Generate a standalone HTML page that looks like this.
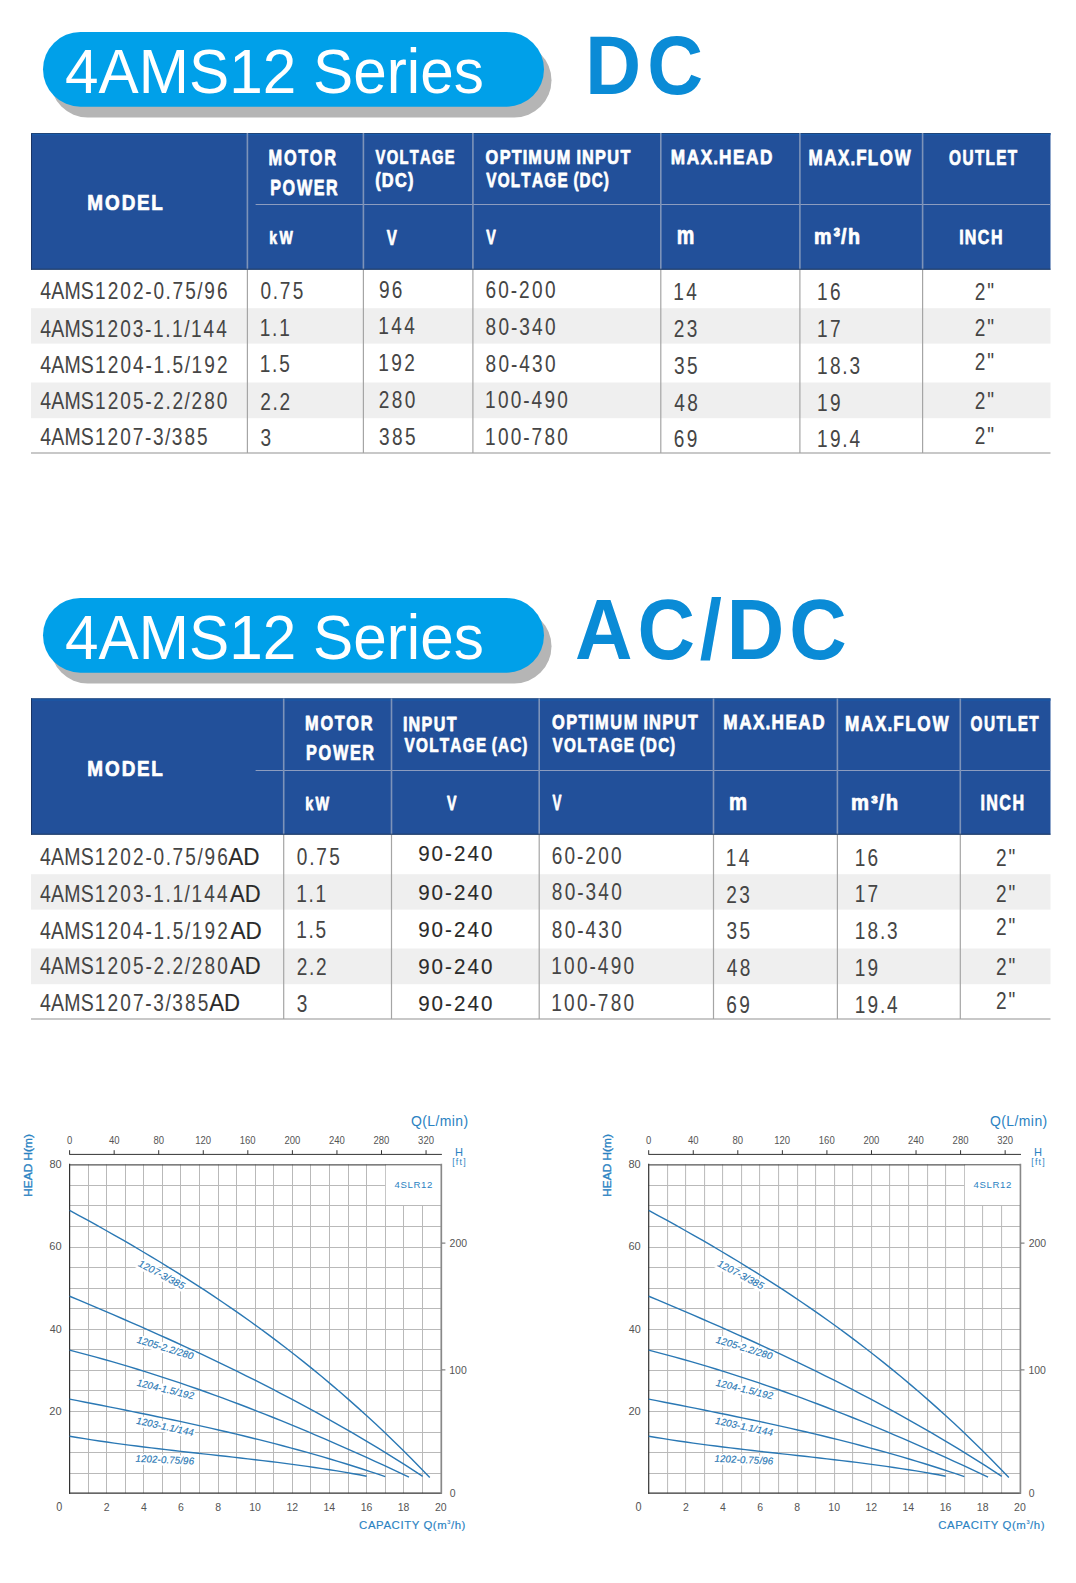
<!DOCTYPE html>
<html><head><meta charset="utf-8"><title>4AMS12 Series</title><style>
html,body{margin:0;padding:0;background:#fff;width:1076px;height:1583px;overflow:hidden}
svg{display:block}
text{font-family:"Liberation Sans",Arial,Helvetica,sans-serif}
</style></head><body>
<svg width="1076" height="1583" viewBox="0 0 1076 1583">
<rect width="1076" height="1583" fill="#ffffff"/>
<rect x="50.5" y="43.0" width="501" height="74.5" rx="37.25" fill="#b5b5b5"/>
<rect x="43" y="32.0" width="501" height="74.7" rx="37.35" fill="#00a0e9"/>
<text transform="translate(65.02 92.80) scale(0.9646 1)" font-size="62.50" fill="#ffffff">4AMS12 Series</text>
<text transform="translate(585.23 93.90) scale(0.9300 1)" font-size="83.14" font-weight="bold" letter-spacing="6.569" fill="#0a8bd6">DC</text>
<rect x="31.0" y="133.0" width="1019.5" height="136.7" fill="#22509a"/>
<rect x="31.0" y="133.0" width="1" height="136.7" fill="#1a3566"/>
<rect x="31.0" y="133.0" width="1019.5" height="1" fill="#1f4478"/>
<rect x="32.0" y="134.0" width="1018.5" height="1.2" fill="#1a5aaa"/>
<rect x="31.0" y="308.2" width="1019.5" height="35.4" fill="#efefef"/>
<rect x="31.0" y="382.5" width="1019.5" height="35.7" fill="#efefef"/>
<rect x="255.6" y="204.00" width="794.9" height="1" fill="#8c9cbf"/>
<rect x="246.60" y="133.0" width="1.6" height="136.7" fill="#7d93b9"/>
<rect x="246.80" y="269.7" width="1.2" height="183.3" fill="#a5a5a5"/>
<rect x="362.60" y="133.0" width="1.6" height="136.7" fill="#7d93b9"/>
<rect x="362.80" y="269.7" width="1.2" height="183.3" fill="#a5a5a5"/>
<rect x="472.10" y="133.0" width="1.6" height="136.7" fill="#7d93b9"/>
<rect x="472.30" y="269.7" width="1.2" height="183.3" fill="#a5a5a5"/>
<rect x="660.00" y="133.0" width="1.6" height="136.7" fill="#7d93b9"/>
<rect x="660.20" y="269.7" width="1.2" height="183.3" fill="#a5a5a5"/>
<rect x="799.10" y="133.0" width="1.6" height="136.7" fill="#7d93b9"/>
<rect x="799.30" y="269.7" width="1.2" height="183.3" fill="#a5a5a5"/>
<rect x="921.80" y="133.0" width="1.6" height="136.7" fill="#7d93b9"/>
<rect x="922.00" y="269.7" width="1.2" height="183.3" fill="#a5a5a5"/>
<rect x="31.0" y="452.40" width="1019.5" height="1.2" fill="#a5a5a5"/>
<rect x="31.0" y="268.7" width="1019.5" height="1" fill="#233c62"/>
<text transform="translate(0 210.30) scale(0.8523 1)" x="102.44 123.31 142.80 160.89 177.59" font-size="22.17" font-weight="bold" stroke="#ffffff" stroke-width="0.75" stroke-linejoin="round" fill="#ffffff">MODEL</text>
<text transform="translate(0 165.10) scale(0.7226 1)" x="371.70 393.02 412.75 428.71 448.62" font-size="22.60" font-weight="bold" stroke="#ffffff" stroke-width="0.75" stroke-linejoin="round" fill="#ffffff">MOTOR</text>
<text transform="translate(0 195.00) scale(0.7278 1)" x="371.25 388.17 407.95 431.24 448.08" font-size="22.17" font-weight="bold" stroke="#ffffff" stroke-width="0.75" stroke-linejoin="round" fill="#ffffff">POWER</text>
<text transform="translate(0 164.00) scale(0.6982 1)" x="537.76 553.82 572.14 586.71 601.43 618.73 637.13" font-size="21.15" font-weight="bold" stroke="#ffffff" stroke-width="0.75" stroke-linejoin="round" fill="#ffffff">VOLTAGE</text>
<text transform="translate(0 187.00) scale(0.8431 1)" x="445.10 452.85 468.63 483.93" font-size="19.40" font-weight="bold" stroke="#ffffff" stroke-width="0.75" stroke-linejoin="round" fill="#ffffff">(DC)</text>
<text transform="translate(0 163.80) scale(0.8338 1)" x="582.39 599.31 613.86 626.85 633.59 651.71 667.67 685.27 691.36 697.97 713.73 728.41 744.10" font-size="19.55" font-weight="bold" stroke="#ffffff" stroke-width="0.75" stroke-linejoin="round" fill="#ffffff">OPTIMUM INPUT</text>
<text transform="translate(0 186.90) scale(0.7442 1)" x="653.30 668.78 686.47 700.52 714.71 731.39 749.15 764.01 770.47 778.61 795.22 811.36" font-size="20.57" font-weight="bold" stroke="#ffffff" stroke-width="0.75" stroke-linejoin="round" fill="#ffffff">VOLTAGE (DC)</text>
<text transform="translate(0 164.20) scale(0.8363 1)" x="802.02 821.19 837.86 852.82 859.84 876.51 892.05 908.80" font-size="20.57" font-weight="bold" stroke="#ffffff" stroke-width="0.75" stroke-linejoin="round" fill="#ffffff">MAX.HEAD</text>
<text transform="translate(0 164.60) scale(0.7961 1)" x="1015.51 1035.42 1052.74 1068.26 1075.42 1090.13 1105.08 1124.04" font-size="21.29" font-weight="bold" stroke="#ffffff" stroke-width="0.75" stroke-linejoin="round" fill="#ffffff">MAX.FLOW</text>
<text transform="translate(0 164.60) scale(0.7221 1)" x="1314.22 1332.90 1350.17 1364.90 1379.71 1395.72" font-size="21.29" font-weight="bold" stroke="#ffffff" stroke-width="0.75" stroke-linejoin="round" fill="#ffffff">OUTLET</text>
<text transform="translate(0 244.10) scale(0.7628 1)" x="353.14 366.38" font-size="18.53" font-weight="bold" stroke="#ffffff" stroke-width="0.75" stroke-linejoin="round" fill="#ffffff">kW</text>
<text transform="translate(386.77 244.50) scale(0.6717 1)" font-size="22.67" font-weight="bold" fill="#ffffff" stroke="#ffffff" stroke-width="0.75" stroke-linejoin="round">V</text>
<text transform="translate(486.18 244.40) scale(0.7084 1)" font-size="20.20" font-weight="bold" fill="#ffffff" stroke="#ffffff" stroke-width="0.75" stroke-linejoin="round">V</text>
<text transform="translate(676.77 244.10) scale(0.7795 1)" font-size="25.36" font-weight="bold" fill="#ffffff" stroke="#ffffff" stroke-width="0.75" stroke-linejoin="round">m</text>
<text transform="translate(0 243.90) scale(0.9075 1)" x="897.01 918.48 926.79 934.39" font-size="21.73" font-weight="bold" stroke="#ffffff" stroke-width="0.75" stroke-linejoin="round" fill="#ffffff">m³/h</text>
<text transform="translate(0 243.90) scale(0.8002 1)" x="1198.80 1205.67 1222.01 1238.35" font-size="19.99" font-weight="bold" stroke="#ffffff" stroke-width="0.75" stroke-linejoin="round" fill="#ffffff">INCH</text>
<text transform="translate(0 298.60) scale(0.8400 1)" x="47.80 60.92 76.67 96.27" font-size="23.26" fill="#454545">4AMS</text>
<text transform="translate(0 298.60) scale(0.8200 1)" x="115.79 131.29 146.79 162.29 177.27 187.07 201.93 210.31 225.81 240.67 249.05 264.55" font-size="23.26" fill="#454545">1202-0.75/96</text>
<text transform="translate(0 337.10) scale(0.8400 1)" x="47.80 60.92 76.67 96.27" font-size="23.26" fill="#454545">4AMS</text>
<text transform="translate(0 337.10) scale(0.8200 1)" x="115.79 131.20 146.62 162.03 176.94 186.67 201.46 209.78 224.58 232.90 248.31 263.72" font-size="23.26" fill="#454545">1203-1.1/144</text>
<text transform="translate(0 372.80) scale(0.8400 1)" x="47.80 60.92 76.67 96.27" font-size="23.26" fill="#454545">4AMS</text>
<text transform="translate(0 372.80) scale(0.8200 1)" x="115.79 131.30 146.82 162.33 177.33 187.14 202.01 210.40 225.27 233.67 249.18 264.70" font-size="23.26" fill="#454545">1204-1.5/192</text>
<text transform="translate(0 408.60) scale(0.8400 1)" x="47.80 60.92 76.67 96.27" font-size="23.26" fill="#454545">4AMS</text>
<text transform="translate(0 408.60) scale(0.8200 1)" x="115.79 131.28 146.76 162.25 177.23 187.01 201.86 210.24 225.09 233.46 248.95 264.44" font-size="23.26" fill="#454545">1205-2.2/280</text>
<text transform="translate(0 445.40) scale(0.8400 1)" x="47.80 60.92 76.67 96.27" font-size="23.26" fill="#454545">4AMS</text>
<text transform="translate(0 445.40) scale(0.8200 1)" x="115.79 131.17 146.55 161.94 176.83 186.53 201.30 209.60 224.98 240.36" font-size="23.26" fill="#454545">1207-3/385</text>
<text transform="translate(0 299.00) scale(0.8200 1)" x="317.63 332.69 341.28 357.05" font-size="23.26" fill="#454545">0.75</text>
<text transform="translate(0 297.60) scale(0.8200 1)" x="462.08 477.85" font-size="23.26" fill="#454545">96</text>
<text transform="translate(0 297.60) scale(0.8200 1)" x="591.99 607.76 622.97 632.98 648.75 664.53" font-size="23.26" fill="#454545">60-200</text>
<text transform="translate(0 300.00) scale(0.8200 1)" x="821.03 836.81" font-size="23.26" fill="#454545">14</text>
<text transform="translate(0 300.00) scale(0.8200 1)" x="996.40 1012.17" font-size="23.26" fill="#454545">16</text>
<text transform="translate(0 299.90) scale(0.8200 1)" x="1188.71 1203.97" font-size="23.26" fill="#454545">2&quot;</text>
<text transform="translate(0 335.80) scale(0.8200 1)" x="316.77 331.83 340.42" font-size="23.26" fill="#454545">1.1</text>
<text transform="translate(0 334.40) scale(0.8200 1)" x="461.40 477.17 492.95" font-size="23.26" fill="#454545">144</text>
<text transform="translate(0 335.00) scale(0.8200 1)" x="592.16 607.93 623.14 633.15 648.92 664.70" font-size="23.26" fill="#454545">80-340</text>
<text transform="translate(0 337.10) scale(0.8200 1)" x="821.64 837.41" font-size="23.26" fill="#454545">23</text>
<text transform="translate(0 337.10) scale(0.8200 1)" x="996.40 1012.17" font-size="23.26" fill="#454545">17</text>
<text transform="translate(0 336.40) scale(0.8200 1)" x="1188.71 1203.97" font-size="23.26" fill="#454545">2&quot;</text>
<text transform="translate(0 371.60) scale(0.8200 1)" x="316.77 331.83 340.42" font-size="23.26" fill="#454545">1.5</text>
<text transform="translate(0 371.20) scale(0.8200 1)" x="461.40 477.17 492.95" font-size="23.26" fill="#454545">192</text>
<text transform="translate(0 371.60) scale(0.8200 1)" x="592.16 607.93 623.14 633.15 648.92 664.70" font-size="23.26" fill="#454545">80-430</text>
<text transform="translate(0 373.70) scale(0.8200 1)" x="821.92 837.69" font-size="23.26" fill="#454545">35</text>
<text transform="translate(0 373.70) scale(0.8200 1)" x="996.40 1012.17 1027.24 1035.83" font-size="23.26" fill="#454545">18.3</text>
<text transform="translate(0 369.90) scale(0.8200 1)" x="1188.71 1203.97" font-size="23.26" fill="#454545">2&quot;</text>
<text transform="translate(0 409.60) scale(0.8200 1)" x="317.37 332.43 341.02" font-size="23.26" fill="#454545">2.2</text>
<text transform="translate(0 408.00) scale(0.8200 1)" x="462.00 477.77 493.55" font-size="23.26" fill="#454545">280</text>
<text transform="translate(0 408.40) scale(0.8200 1)" x="591.40 607.17 622.95 638.15 648.16 663.94 679.71" font-size="23.26" fill="#454545">100-490</text>
<text transform="translate(0 410.50) scale(0.8200 1)" x="822.27 838.04" font-size="23.26" fill="#454545">48</text>
<text transform="translate(0 410.50) scale(0.8200 1)" x="996.40 1012.17" font-size="23.26" fill="#454545">19</text>
<text transform="translate(0 409.00) scale(0.8200 1)" x="1188.71 1203.97" font-size="23.26" fill="#454545">2&quot;</text>
<text transform="translate(0 445.80) scale(0.8200 1)" x="317.65" font-size="23.26" fill="#454545">3</text>
<text transform="translate(0 444.80) scale(0.8200 1)" x="462.28 478.06 493.83" font-size="23.26" fill="#454545">385</text>
<text transform="translate(0 445.40) scale(0.8200 1)" x="591.40 607.17 622.95 638.15 648.16 663.94 679.71" font-size="23.26" fill="#454545">100-780</text>
<text transform="translate(0 446.90) scale(0.8200 1)" x="821.62 837.40" font-size="23.26" fill="#454545">69</text>
<text transform="translate(0 446.90) scale(0.8200 1)" x="996.40 1012.17 1027.24 1035.83" font-size="23.26" fill="#454545">19.4</text>
<text transform="translate(0 443.70) scale(0.8200 1)" x="1188.71 1203.97" font-size="23.26" fill="#454545">2&quot;</text>
<rect x="50.5" y="609.0" width="501" height="74.5" rx="37.25" fill="#b5b5b5"/>
<rect x="43" y="598.0" width="501" height="74.7" rx="37.35" fill="#00a0e9"/>
<text transform="translate(65.02 658.80) scale(0.9646 1)" font-size="62.50" fill="#ffffff">4AMS12 Series</text>
<text transform="translate(575.02 659.10) scale(0.9300 1)" font-size="85.61" font-weight="bold" letter-spacing="5.281" fill="#0a8bd6">AC/DC</text>
<rect x="31.0" y="698.4" width="1019.5" height="136.3" fill="#22509a"/>
<rect x="31.0" y="698.4" width="1" height="136.3" fill="#1a3566"/>
<rect x="31.0" y="698.4" width="1019.5" height="1" fill="#1f4478"/>
<rect x="32.0" y="699.4" width="1018.5" height="1.2" fill="#1a5aaa"/>
<rect x="31.0" y="874.2" width="1019.5" height="35.4" fill="#efefef"/>
<rect x="31.0" y="948.5" width="1019.5" height="35.7" fill="#efefef"/>
<rect x="255.6" y="770.00" width="794.9" height="1" fill="#8c9cbf"/>
<rect x="282.90" y="698.4" width="1.6" height="136.3" fill="#7d93b9"/>
<rect x="283.10" y="834.7" width="1.2" height="184.3" fill="#a5a5a5"/>
<rect x="390.70" y="698.4" width="1.6" height="136.3" fill="#7d93b9"/>
<rect x="390.90" y="834.7" width="1.2" height="184.3" fill="#a5a5a5"/>
<rect x="538.40" y="698.4" width="1.6" height="136.3" fill="#7d93b9"/>
<rect x="538.60" y="834.7" width="1.2" height="184.3" fill="#a5a5a5"/>
<rect x="712.70" y="698.4" width="1.6" height="136.3" fill="#7d93b9"/>
<rect x="712.90" y="834.7" width="1.2" height="184.3" fill="#a5a5a5"/>
<rect x="836.60" y="698.4" width="1.6" height="136.3" fill="#7d93b9"/>
<rect x="836.80" y="834.7" width="1.2" height="184.3" fill="#a5a5a5"/>
<rect x="959.50" y="698.4" width="1.6" height="136.3" fill="#7d93b9"/>
<rect x="959.70" y="834.7" width="1.2" height="184.3" fill="#a5a5a5"/>
<rect x="31.0" y="1018.40" width="1019.5" height="1.2" fill="#a5a5a5"/>
<rect x="31.0" y="833.7" width="1019.5" height="1" fill="#233c62"/>
<text transform="translate(0 776.30) scale(0.8523 1)" x="102.44 123.31 142.80 160.89 177.59" font-size="22.17" font-weight="bold" stroke="#ffffff" stroke-width="0.75" stroke-linejoin="round" fill="#ffffff">MODEL</text>
<text transform="translate(0 730.10) scale(0.8113 1)" x="376.05 395.04 412.62 426.83 444.56" font-size="20.13" font-weight="bold" stroke="#ffffff" stroke-width="0.75" stroke-linejoin="round" fill="#ffffff">MOTOR</text>
<text transform="translate(0 760.30) scale(0.7686 1)" x="398.13 414.26 433.13 455.36 471.42" font-size="21.15" font-weight="bold" stroke="#ffffff" stroke-width="0.75" stroke-linejoin="round" fill="#ffffff">POWER</text>
<text transform="translate(0 731.00) scale(0.8110 1)" x="497.01 503.79 519.87 534.85 550.86" font-size="19.84" font-weight="bold" stroke="#ffffff" stroke-width="0.75" stroke-linejoin="round" fill="#ffffff">INPUT</text>
<text transform="translate(0 752.00) scale(0.7665 1)" x="527.85 542.89 560.08 573.73 587.52 603.73 620.98 635.43 641.71 649.61 665.75 681.44" font-size="19.99" font-weight="bold" stroke="#ffffff" stroke-width="0.75" stroke-linejoin="round" fill="#ffffff">VOLTAGE (AC)</text>
<text transform="translate(0 729.20) scale(0.7981 1)" x="691.67 709.46 724.77 738.44 745.53 764.60 781.39 799.90 806.31 813.26 829.84 845.29 861.80" font-size="20.57" font-weight="bold" stroke="#ffffff" stroke-width="0.75" stroke-linejoin="round" fill="#ffffff">OPTIMUM INPUT</text>
<text transform="translate(0 752.40) scale(0.7436 1)" x="743.14 758.62 776.31 790.36 804.54 821.22 838.98 853.85 860.31 868.44 885.06 901.19" font-size="20.57" font-weight="bold" stroke="#ffffff" stroke-width="0.75" stroke-linejoin="round" fill="#ffffff">VOLTAGE (DC)</text>
<text transform="translate(0 729.20) scale(0.8346 1)" x="866.53 885.70 902.37 917.33 924.35 941.03 956.57 973.31" font-size="20.57" font-weight="bold" stroke="#ffffff" stroke-width="0.75" stroke-linejoin="round" fill="#ffffff">MAX.HEAD</text>
<text transform="translate(0 730.70) scale(0.7646 1)" x="1105.11 1126.11 1144.37 1160.74 1168.29 1183.80 1199.57 1219.57" font-size="22.46" font-weight="bold" stroke="#ffffff" stroke-width="0.75" stroke-linejoin="round" fill="#ffffff">MAX.FLOW</text>
<text transform="translate(0 730.70) scale(0.6858 1)" x="1415.00 1434.70 1452.90 1468.44 1484.06 1500.94" font-size="22.46" font-weight="bold" stroke="#ffffff" stroke-width="0.75" stroke-linejoin="round" fill="#ffffff">OUTLET</text>
<text transform="translate(0 809.60) scale(0.7798 1)" x="391.32 404.57" font-size="18.53" font-weight="bold" stroke="#ffffff" stroke-width="0.75" stroke-linejoin="round" fill="#ffffff">kW</text>
<text transform="translate(447.08 810.00) scale(0.6958 1)" font-size="20.35" font-weight="bold" fill="#ffffff" stroke="#ffffff" stroke-width="0.75" stroke-linejoin="round">V</text>
<text transform="translate(552.58 810.40) scale(0.6143 1)" font-size="21.80" font-weight="bold" fill="#ffffff" stroke="#ffffff" stroke-width="0.75" stroke-linejoin="round">V</text>
<text transform="translate(729.04 810.40) scale(0.8377 1)" font-size="24.23" font-weight="bold" fill="#ffffff" stroke="#ffffff" stroke-width="0.75" stroke-linejoin="round">m</text>
<text transform="translate(0 810.40) scale(0.9496 1)" x="896.23 917.27 925.42 932.86" font-size="21.29" font-weight="bold" stroke="#ffffff" stroke-width="0.75" stroke-linejoin="round" fill="#ffffff">m³/h</text>
<text transform="translate(0 810.40) scale(0.7316 1)" x="1340.38 1347.95 1365.95 1383.95" font-size="22.02" font-weight="bold" stroke="#ffffff" stroke-width="0.75" stroke-linejoin="round" fill="#ffffff">INCH</text>
<text transform="translate(0 864.50) scale(0.8400 1)" x="47.68 60.80 76.55 96.15" font-size="23.26" fill="#454545">4AMS</text>
<text transform="translate(0 864.50) scale(0.8200 1)" x="115.67 131.22 146.77 162.32 177.34 187.18 202.08 210.50 226.05 240.94 249.37 264.92" font-size="23.26" fill="#454545">1202-0.75/96</text>
<text transform="translate(228.16 864.50) scale(0.9696 1)" font-size="23.26" fill="#2a2a2a" stroke="#2a2a2a" stroke-width="0.12">AD</text>
<text transform="translate(0 901.90) scale(0.8400 1)" x="47.68 60.80 76.55 96.15" font-size="23.26" fill="#454545">4AMS</text>
<text transform="translate(0 901.90) scale(0.8200 1)" x="115.67 131.18 146.70 162.21 177.21 187.02 201.89 210.28 225.15 233.55 249.06 264.58" font-size="23.26" fill="#454545">1203-1.1/144</text>
<text transform="translate(230.06 901.90) scale(0.9471 1)" font-size="23.26" fill="#2a2a2a" stroke="#2a2a2a" stroke-width="0.12">AD</text>
<text transform="translate(0 939.40) scale(0.8400 1)" x="47.68 60.80 76.55 96.15" font-size="23.26" fill="#454545">4AMS</text>
<text transform="translate(0 939.40) scale(0.8200 1)" x="115.67 131.23 146.80 162.36 177.40 187.25 202.16 210.59 225.50 233.93 249.50 265.06" font-size="23.26" fill="#454545">1204-1.5/192</text>
<text transform="translate(230.56 939.40) scale(0.9696 1)" font-size="23.26" fill="#2a2a2a" stroke="#2a2a2a" stroke-width="0.12">AD</text>
<text transform="translate(0 974.40) scale(0.8400 1)" x="47.68 60.80 76.55 96.15" font-size="23.26" fill="#454545">4AMS</text>
<text transform="translate(0 974.40) scale(0.8200 1)" x="115.67 131.21 146.74 162.28 177.30 187.13 202.01 210.43 225.31 233.73 249.27 264.80" font-size="23.26" fill="#454545">1205-2.2/280</text>
<text transform="translate(230.06 974.40) scale(0.9471 1)" font-size="23.26" fill="#2a2a2a" stroke="#2a2a2a" stroke-width="0.12">AD</text>
<text transform="translate(0 1011.40) scale(0.8400 1)" x="47.68 60.80 76.55 96.15" font-size="23.26" fill="#454545">4AMS</text>
<text transform="translate(0 1011.40) scale(0.8200 1)" x="115.67 131.17 146.67 162.18 177.16 186.96 201.82 210.21 225.71 241.21" font-size="23.26" fill="#454545">1207-3/385</text>
<text transform="translate(209.26 1011.40) scale(0.9535 1)" font-size="23.26" fill="#2a2a2a" stroke="#2a2a2a" stroke-width="0.12">AD</text>
<text transform="translate(0 864.50) scale(0.8200 1)" x="362.02 377.08 385.67 401.44" font-size="23.26" fill="#454545">0.75</text>
<text transform="translate(418.14 861.10) scale(0.9700 1)" font-size="21.22" letter-spacing="2.098" fill="#2a2a2a" stroke="#2a2a2a" stroke-width="0.12">90-240</text>
<text transform="translate(0 863.50) scale(0.8200 1)" x="672.72 688.49 703.70 713.71 729.49 745.26" font-size="23.26" fill="#454545">60-200</text>
<text transform="translate(0 865.90) scale(0.8200 1)" x="885.18 900.95" font-size="23.26" fill="#454545">14</text>
<text transform="translate(0 865.90) scale(0.8200 1)" x="1042.25 1058.03" font-size="23.26" fill="#454545">16</text>
<text transform="translate(0 865.90) scale(0.8200 1)" x="1214.68 1229.94" font-size="23.26" fill="#454545">2&quot;</text>
<text transform="translate(0 901.50) scale(0.8200 1)" x="361.16 376.22 384.81" font-size="23.26" fill="#454545">1.1</text>
<text transform="translate(418.14 900.20) scale(0.9700 1)" font-size="21.22" letter-spacing="2.098" fill="#2a2a2a" stroke="#2a2a2a" stroke-width="0.12">90-240</text>
<text transform="translate(0 900.20) scale(0.8200 1)" x="672.89 688.66 703.87 713.88 729.66 745.43" font-size="23.26" fill="#454545">80-340</text>
<text transform="translate(0 902.70) scale(0.8200 1)" x="885.78 901.55" font-size="23.26" fill="#454545">23</text>
<text transform="translate(0 902.20) scale(0.8200 1)" x="1042.25 1058.03" font-size="23.26" fill="#454545">17</text>
<text transform="translate(0 902.20) scale(0.8200 1)" x="1214.68 1229.94" font-size="23.26" fill="#454545">2&quot;</text>
<text transform="translate(0 938.40) scale(0.8200 1)" x="361.16 376.22 384.81" font-size="23.26" fill="#454545">1.5</text>
<text transform="translate(418.14 937.00) scale(0.9700 1)" font-size="21.22" letter-spacing="2.098" fill="#2a2a2a" stroke="#2a2a2a" stroke-width="0.12">90-240</text>
<text transform="translate(0 937.70) scale(0.8200 1)" x="672.89 688.66 703.87 713.88 729.66 745.43" font-size="23.26" fill="#454545">80-430</text>
<text transform="translate(0 938.90) scale(0.8200 1)" x="886.07 901.84" font-size="23.26" fill="#454545">35</text>
<text transform="translate(0 939.40) scale(0.8200 1)" x="1042.25 1058.03 1073.09 1081.68" font-size="23.26" fill="#454545">18.3</text>
<text transform="translate(0 935.30) scale(0.8200 1)" x="1214.68 1229.94" font-size="23.26" fill="#454545">2&quot;</text>
<text transform="translate(0 975.20) scale(0.8200 1)" x="361.76 376.82 385.41" font-size="23.26" fill="#454545">2.2</text>
<text transform="translate(418.14 974.00) scale(0.9700 1)" font-size="21.22" letter-spacing="2.098" fill="#2a2a2a" stroke="#2a2a2a" stroke-width="0.12">90-240</text>
<text transform="translate(0 974.00) scale(0.8200 1)" x="672.13 687.90 703.68 718.88 728.89 744.67 760.44" font-size="23.26" fill="#454545">100-490</text>
<text transform="translate(0 975.60) scale(0.8200 1)" x="886.42 902.19" font-size="23.26" fill="#454545">48</text>
<text transform="translate(0 975.60) scale(0.8200 1)" x="1042.25 1058.03" font-size="23.26" fill="#454545">19</text>
<text transform="translate(0 974.70) scale(0.8200 1)" x="1214.68 1229.94" font-size="23.26" fill="#454545">2&quot;</text>
<text transform="translate(0 1012.10) scale(0.8200 1)" x="362.04" font-size="23.26" fill="#454545">3</text>
<text transform="translate(418.14 1011.40) scale(0.9700 1)" font-size="21.22" letter-spacing="2.098" fill="#2a2a2a" stroke="#2a2a2a" stroke-width="0.12">90-240</text>
<text transform="translate(0 1010.90) scale(0.8200 1)" x="672.13 687.90 703.68 718.88 728.89 744.67 760.44" font-size="23.26" fill="#454545">100-780</text>
<text transform="translate(0 1012.60) scale(0.8200 1)" x="885.77 901.54" font-size="23.26" fill="#454545">69</text>
<text transform="translate(0 1012.60) scale(0.8200 1)" x="1042.25 1058.03 1073.09 1081.68" font-size="23.26" fill="#454545">19.4</text>
<text transform="translate(0 1009.00) scale(0.8200 1)" x="1214.68 1229.94" font-size="23.26" fill="#454545">2&quot;</text>
<g transform="translate(0.0 0)">
<line x1="88.50" y1="1164.32" x2="88.50" y2="1493.20" stroke="#b9b9b9" stroke-width="1"/>
<line x1="106.50" y1="1164.32" x2="106.50" y2="1493.20" stroke="#b9b9b9" stroke-width="1"/>
<line x1="125.50" y1="1164.32" x2="125.50" y2="1493.20" stroke="#b9b9b9" stroke-width="1"/>
<line x1="143.50" y1="1164.32" x2="143.50" y2="1493.20" stroke="#b9b9b9" stroke-width="1"/>
<line x1="162.50" y1="1164.32" x2="162.50" y2="1493.20" stroke="#b9b9b9" stroke-width="1"/>
<line x1="180.50" y1="1164.32" x2="180.50" y2="1493.20" stroke="#b9b9b9" stroke-width="1"/>
<line x1="199.50" y1="1164.32" x2="199.50" y2="1493.20" stroke="#b9b9b9" stroke-width="1"/>
<line x1="218.50" y1="1164.32" x2="218.50" y2="1493.20" stroke="#b9b9b9" stroke-width="1"/>
<line x1="236.50" y1="1164.32" x2="236.50" y2="1493.20" stroke="#b9b9b9" stroke-width="1"/>
<line x1="255.50" y1="1164.32" x2="255.50" y2="1493.20" stroke="#b9b9b9" stroke-width="1"/>
<line x1="273.50" y1="1164.32" x2="273.50" y2="1493.20" stroke="#b9b9b9" stroke-width="1"/>
<line x1="292.50" y1="1164.32" x2="292.50" y2="1493.20" stroke="#b9b9b9" stroke-width="1"/>
<line x1="310.50" y1="1164.32" x2="310.50" y2="1493.20" stroke="#b9b9b9" stroke-width="1"/>
<line x1="329.50" y1="1164.32" x2="329.50" y2="1493.20" stroke="#b9b9b9" stroke-width="1"/>
<line x1="348.50" y1="1164.32" x2="348.50" y2="1493.20" stroke="#b9b9b9" stroke-width="1"/>
<line x1="366.50" y1="1164.32" x2="366.50" y2="1493.20" stroke="#b9b9b9" stroke-width="1"/>
<line x1="385.50" y1="1164.32" x2="385.50" y2="1493.20" stroke="#b9b9b9" stroke-width="1"/>
<line x1="403.50" y1="1205.43" x2="403.50" y2="1493.20" stroke="#b9b9b9" stroke-width="1"/>
<line x1="422.50" y1="1205.43" x2="422.50" y2="1493.20" stroke="#b9b9b9" stroke-width="1"/>
<line x1="69.60" y1="1473.50" x2="440.90" y2="1473.50" stroke="#b9b9b9" stroke-width="1"/>
<line x1="69.60" y1="1452.50" x2="440.90" y2="1452.50" stroke="#b9b9b9" stroke-width="1"/>
<line x1="69.60" y1="1432.50" x2="440.90" y2="1432.50" stroke="#b9b9b9" stroke-width="1"/>
<line x1="69.60" y1="1411.50" x2="440.90" y2="1411.50" stroke="#b9b9b9" stroke-width="1"/>
<line x1="69.60" y1="1390.50" x2="440.90" y2="1390.50" stroke="#b9b9b9" stroke-width="1"/>
<line x1="69.60" y1="1370.50" x2="440.90" y2="1370.50" stroke="#b9b9b9" stroke-width="1"/>
<line x1="69.60" y1="1349.50" x2="440.90" y2="1349.50" stroke="#b9b9b9" stroke-width="1"/>
<line x1="69.60" y1="1329.50" x2="440.90" y2="1329.50" stroke="#b9b9b9" stroke-width="1"/>
<line x1="69.60" y1="1308.50" x2="440.90" y2="1308.50" stroke="#b9b9b9" stroke-width="1"/>
<line x1="69.60" y1="1288.50" x2="440.90" y2="1288.50" stroke="#b9b9b9" stroke-width="1"/>
<line x1="69.60" y1="1267.50" x2="440.90" y2="1267.50" stroke="#b9b9b9" stroke-width="1"/>
<line x1="69.60" y1="1247.50" x2="440.90" y2="1247.50" stroke="#b9b9b9" stroke-width="1"/>
<line x1="69.60" y1="1226.50" x2="440.90" y2="1226.50" stroke="#b9b9b9" stroke-width="1"/>
<line x1="69.60" y1="1205.50" x2="440.90" y2="1205.50" stroke="#b9b9b9" stroke-width="1"/>
<line x1="69.60" y1="1185.50" x2="385.21" y2="1185.50" stroke="#b9b9b9" stroke-width="1"/>
<line x1="69.60" y1="1164.90" x2="440.90" y2="1164.90" stroke="#555" stroke-width="1.2"/>
<line x1="69.60" y1="1163.82" x2="69.60" y2="1493.80" stroke="#333" stroke-width="1.2"/>
<line x1="69.00" y1="1493.20" x2="441.90" y2="1493.20" stroke="#333" stroke-width="1.2"/>
<line x1="441.30" y1="1163.82" x2="441.30" y2="1493.80" stroke="#888" stroke-width="1.7"/>
<line x1="69.30" y1="1154.40" x2="441.90" y2="1154.40" stroke="#333" stroke-width="1"/>
<line x1="69.60" y1="1154.40" x2="69.60" y2="1150.20" stroke="#333" stroke-width="1"/>
<text transform="translate(66.95 1143.90) scale(0.9500 1)" font-size="10.03" fill="#555555">0</text>
<line x1="114.16" y1="1154.40" x2="114.16" y2="1150.20" stroke="#333" stroke-width="1"/>
<text transform="translate(108.93 1143.90) scale(0.9500 1)" font-size="10.03" fill="#555555">40</text>
<line x1="158.71" y1="1154.40" x2="158.71" y2="1150.20" stroke="#333" stroke-width="1"/>
<text transform="translate(153.39 1143.90) scale(0.9500 1)" font-size="10.03" fill="#555555">80</text>
<line x1="203.27" y1="1154.40" x2="203.27" y2="1150.20" stroke="#333" stroke-width="1"/>
<text transform="translate(195.14 1143.90) scale(0.9500 1)" font-size="10.03" fill="#555555">120</text>
<line x1="247.82" y1="1154.40" x2="247.82" y2="1150.20" stroke="#333" stroke-width="1"/>
<text transform="translate(239.70 1143.90) scale(0.9500 1)" font-size="10.03" fill="#555555">160</text>
<line x1="292.38" y1="1154.40" x2="292.38" y2="1150.20" stroke="#333" stroke-width="1"/>
<text transform="translate(284.38 1143.90) scale(0.9500 1)" font-size="10.03" fill="#555555">200</text>
<line x1="336.94" y1="1154.40" x2="336.94" y2="1150.20" stroke="#333" stroke-width="1"/>
<text transform="translate(328.93 1143.90) scale(0.9500 1)" font-size="10.03" fill="#555555">240</text>
<line x1="381.49" y1="1154.40" x2="381.49" y2="1150.20" stroke="#333" stroke-width="1"/>
<text transform="translate(373.49 1143.90) scale(0.9500 1)" font-size="10.03" fill="#555555">280</text>
<line x1="426.05" y1="1154.40" x2="426.05" y2="1150.20" stroke="#333" stroke-width="1"/>
<text transform="translate(418.10 1143.90) scale(0.9500 1)" font-size="10.03" fill="#555555">320</text>
<text transform="translate(449.69 1497.30) scale(0.9000 1)" font-size="11.63" fill="#555555">0</text>
<line x1="441.90" y1="1369.90" x2="445.40" y2="1369.90" stroke="#666" stroke-width="1"/>
<text transform="translate(449.30 1373.50) scale(0.9000 1)" font-size="11.63" fill="#555555">100</text>
<line x1="441.90" y1="1243.10" x2="445.40" y2="1243.10" stroke="#666" stroke-width="1"/>
<text transform="translate(449.57 1246.70) scale(0.9000 1)" font-size="11.63" fill="#555555">200</text>
<text transform="translate(49.34 1414.88) scale(0.9743 1)" font-size="11.34" fill="#555555">20</text>
<text transform="translate(49.65 1332.66) scale(0.9490 1)" font-size="11.34" fill="#555555">40</text>
<text transform="translate(49.34 1250.44) scale(0.9748 1)" font-size="11.34" fill="#555555">60</text>
<text transform="translate(49.42 1168.22) scale(0.9679 1)" font-size="11.34" fill="#555555">80</text>
<text transform="translate(56.28 1510.50) scale(0.9000 1)" font-size="12.06" fill="#555555">0</text>
<text transform="translate(103.81 1510.60) scale(0.9500 1)" font-size="11.05" fill="#555555">2</text>
<text transform="translate(140.98 1510.60) scale(0.9500 1)" font-size="11.05" fill="#555555">4</text>
<text transform="translate(178.04 1510.60) scale(0.9500 1)" font-size="11.05" fill="#555555">6</text>
<text transform="translate(215.20 1510.60) scale(0.9500 1)" font-size="11.05" fill="#555555">8</text>
<text transform="translate(249.22 1510.60) scale(0.9500 1)" font-size="11.05" fill="#555555">10</text>
<text transform="translate(286.41 1510.60) scale(0.9500 1)" font-size="11.05" fill="#555555">12</text>
<text transform="translate(323.43 1510.60) scale(0.9500 1)" font-size="11.05" fill="#555555">14</text>
<text transform="translate(360.63 1510.60) scale(0.9500 1)" font-size="11.05" fill="#555555">16</text>
<text transform="translate(397.76 1510.60) scale(0.9500 1)" font-size="11.05" fill="#555555">18</text>
<text transform="translate(435.00 1510.60) scale(0.9500 1)" font-size="11.05" fill="#555555">20</text>
<rect x="385.81" y="1165.60" width="54.29" height="39.40" fill="#fff"/>
<text transform="translate(394.48 1188.10) scale(1.0200 1)" font-size="9.45" letter-spacing="0.604" fill="#2a82c2">4SLR12</text>
<polyline points="69.60,1210.43 78.60,1215.31 87.61,1220.23 96.61,1225.21 105.62,1230.24 114.62,1235.33 123.62,1240.48 132.63,1245.70 141.63,1250.98 150.64,1256.34 159.64,1261.77 168.64,1267.28 177.65,1272.88 186.65,1278.56 195.66,1284.33 204.66,1290.19 213.66,1296.15 222.67,1302.21 231.67,1308.38 240.68,1314.65 249.68,1321.04 258.68,1327.54 267.69,1334.15 276.69,1340.89 285.70,1347.76 294.70,1354.75 303.70,1361.88 312.71,1369.15 321.71,1376.55 330.72,1384.10 339.72,1391.79 348.72,1399.64 357.73,1407.64 366.73,1415.79 375.74,1424.11 384.74,1432.59 393.74,1441.25 402.75,1450.07 411.75,1459.07 420.76,1468.25 429.76,1477.61" fill="none" stroke="#2a78b4" stroke-width="1.4" stroke-linejoin="round"/>
<polyline points="69.60,1296.25 78.43,1299.94 87.26,1303.65 96.08,1307.39 104.91,1311.14 113.74,1314.93 122.57,1318.74 131.39,1322.57 140.22,1326.44 149.05,1330.34 157.88,1334.27 166.70,1338.24 175.53,1342.24 184.36,1346.28 193.19,1350.36 202.01,1354.49 210.84,1358.66 219.67,1362.87 228.50,1367.13 237.33,1371.44 246.15,1375.80 254.98,1380.21 263.81,1384.68 272.64,1389.20 281.46,1393.78 290.29,1398.42 299.12,1403.12 307.95,1407.88 316.77,1412.71 325.60,1417.61 334.43,1422.57 343.26,1427.60 352.09,1432.70 360.91,1437.87 369.74,1443.12 378.57,1448.45 387.40,1453.86 396.22,1459.34 405.05,1464.91 413.88,1470.56 422.71,1476.29" fill="none" stroke="#2a78b4" stroke-width="1.4" stroke-linejoin="round"/>
<polyline points="69.60,1350.18 78.08,1352.36 86.57,1354.60 95.05,1356.89 103.54,1359.25 112.02,1361.66 120.51,1364.13 128.99,1366.65 137.47,1369.23 145.96,1371.87 154.44,1374.56 162.93,1377.30 171.41,1380.09 179.89,1382.94 188.38,1385.83 196.86,1388.78 205.35,1391.78 213.83,1394.83 222.32,1397.92 230.80,1401.07 239.28,1404.26 247.77,1407.50 256.25,1410.78 264.74,1414.11 273.22,1417.49 281.71,1420.91 290.19,1424.37 298.67,1427.88 307.16,1431.43 315.64,1435.02 324.13,1438.65 332.61,1442.32 341.09,1446.03 349.58,1449.79 358.06,1453.58 366.55,1457.40 375.03,1461.27 383.52,1465.17 392.00,1469.11 400.48,1473.08 408.97,1477.09" fill="none" stroke="#2a78b4" stroke-width="1.4" stroke-linejoin="round"/>
<polyline points="69.60,1399.12 77.49,1400.66 85.38,1402.20 93.27,1403.75 101.16,1405.30 109.05,1406.86 116.94,1408.43 124.83,1410.01 132.72,1411.60 140.61,1413.20 148.50,1414.81 156.39,1416.44 164.28,1418.09 172.17,1419.76 180.06,1421.44 187.95,1423.15 195.84,1424.87 203.73,1426.63 211.62,1428.40 219.51,1430.20 227.40,1432.04 235.29,1433.89 243.18,1435.78 251.07,1437.71 258.96,1439.66 266.85,1441.65 274.74,1443.68 282.63,1445.74 290.52,1447.84 298.41,1449.99 306.30,1452.17 314.19,1454.40 322.08,1456.67 329.97,1458.98 337.86,1461.35 345.75,1463.76 353.64,1466.22 361.53,1468.74 369.42,1471.30 377.31,1473.92 385.21,1476.60" fill="none" stroke="#2a78b4" stroke-width="1.4" stroke-linejoin="round"/>
<polyline points="69.60,1436.20 77.03,1437.46 84.45,1438.67 91.88,1439.84 99.30,1440.96 106.73,1442.05 114.16,1443.10 121.58,1444.12 129.01,1445.10 136.43,1446.06 143.86,1446.99 151.29,1447.90 158.71,1448.79 166.14,1449.66 173.56,1450.52 180.99,1451.37 188.42,1452.20 195.84,1453.03 203.27,1453.85 210.69,1454.67 218.12,1455.50 225.55,1456.32 232.97,1457.16 240.40,1458.00 247.82,1458.85 255.25,1459.72 262.68,1460.60 270.10,1461.50 277.53,1462.43 284.95,1463.37 292.38,1464.35 299.81,1465.36 307.23,1466.39 314.66,1467.47 322.08,1468.58 329.51,1469.73 336.94,1470.93 344.36,1472.17 351.79,1473.46 359.21,1474.80 366.64,1476.19" fill="none" stroke="#2a78b4" stroke-width="1.4" stroke-linejoin="round"/>
<g transform="translate(137.30 1265.60) rotate(28.00)">
<rect x="-2" y="-8.42" width="54.49" height="10.89" fill="#fff"/>
<text transform="skewX(-8)" font-size="9.90" letter-spacing="0.10" fill="#2a78b4" stroke="#2a78b4" stroke-width="0.15">1207-3/385</text>
</g>
<g transform="translate(136.00 1342.40) rotate(17.00)">
<rect x="-2" y="-8.24" width="61.99" height="10.67" fill="#fff"/>
<text transform="skewX(-8)" font-size="9.70" letter-spacing="0.12" fill="#2a78b4" stroke="#2a78b4" stroke-width="0.15">1205-2.2/280</text>
</g>
<g transform="translate(135.90 1385.50) rotate(13.70)">
<rect x="-2" y="-8.24" width="61.99" height="10.67" fill="#fff"/>
<text transform="skewX(-8)" font-size="9.70" letter-spacing="0.12" fill="#2a78b4" stroke="#2a78b4" stroke-width="0.15">1204-1.5/192</text>
</g>
<g transform="translate(135.50 1423.50) rotate(12.30)">
<rect x="-2" y="-8.24" width="61.99" height="10.67" fill="#fff"/>
<text transform="skewX(-8)" font-size="9.70" letter-spacing="0.12" fill="#2a78b4" stroke="#2a78b4" stroke-width="0.15">1203-1.1/144</text>
</g>
<g transform="translate(134.90 1461.80) rotate(2.50)">
<rect x="-2" y="-8.33" width="62.36" height="10.78" fill="#fff"/>
<text transform="skewX(-8)" font-size="9.80" letter-spacing="0.10" fill="#2a78b4" stroke="#2a78b4" stroke-width="0.15">1202-0.75/96</text>
</g>
<text transform="translate(410.94 1125.90) scale(0.9700 1)" font-size="14.39" letter-spacing="0.433" fill="#2a82c2">Q(L/min)</text>
<text transform="translate(454.89 1155.50) scale(1.0461 1)" font-size="10.61" fill="#2a82c2">H</text>
<text transform="translate(452.18 1164.90) scale(0.9000 1)" font-size="9.72" letter-spacing="1.379" fill="#2a82c2">[ft]</text>
<text x="359.1" y="1528.7" font-size="11.4" fill="#2a82c2" stroke="#2a82c2" stroke-width="0.15" textLength="106.3" lengthAdjust="spacing">CAPACITY Q(m<tspan font-size="5.5" dy="-5.2">3</tspan><tspan dy="5.2">/h)</tspan></text>
<g transform="translate(31.7 1195.8) rotate(-90)">
<text transform="translate(-0.97 0) scale(1.0901 1)" font-size="10.90" fill="#2a82c2" stroke="#2a82c2" stroke-width="0.35">HEAD H(m)</text>
</g>
</g>
<g transform="translate(579.1 0)">
<line x1="88.50" y1="1164.32" x2="88.50" y2="1493.20" stroke="#b9b9b9" stroke-width="1"/>
<line x1="106.50" y1="1164.32" x2="106.50" y2="1493.20" stroke="#b9b9b9" stroke-width="1"/>
<line x1="125.50" y1="1164.32" x2="125.50" y2="1493.20" stroke="#b9b9b9" stroke-width="1"/>
<line x1="143.50" y1="1164.32" x2="143.50" y2="1493.20" stroke="#b9b9b9" stroke-width="1"/>
<line x1="162.50" y1="1164.32" x2="162.50" y2="1493.20" stroke="#b9b9b9" stroke-width="1"/>
<line x1="180.50" y1="1164.32" x2="180.50" y2="1493.20" stroke="#b9b9b9" stroke-width="1"/>
<line x1="199.50" y1="1164.32" x2="199.50" y2="1493.20" stroke="#b9b9b9" stroke-width="1"/>
<line x1="218.50" y1="1164.32" x2="218.50" y2="1493.20" stroke="#b9b9b9" stroke-width="1"/>
<line x1="236.50" y1="1164.32" x2="236.50" y2="1493.20" stroke="#b9b9b9" stroke-width="1"/>
<line x1="255.50" y1="1164.32" x2="255.50" y2="1493.20" stroke="#b9b9b9" stroke-width="1"/>
<line x1="273.50" y1="1164.32" x2="273.50" y2="1493.20" stroke="#b9b9b9" stroke-width="1"/>
<line x1="292.50" y1="1164.32" x2="292.50" y2="1493.20" stroke="#b9b9b9" stroke-width="1"/>
<line x1="310.50" y1="1164.32" x2="310.50" y2="1493.20" stroke="#b9b9b9" stroke-width="1"/>
<line x1="329.50" y1="1164.32" x2="329.50" y2="1493.20" stroke="#b9b9b9" stroke-width="1"/>
<line x1="348.50" y1="1164.32" x2="348.50" y2="1493.20" stroke="#b9b9b9" stroke-width="1"/>
<line x1="366.50" y1="1164.32" x2="366.50" y2="1493.20" stroke="#b9b9b9" stroke-width="1"/>
<line x1="385.50" y1="1164.32" x2="385.50" y2="1493.20" stroke="#b9b9b9" stroke-width="1"/>
<line x1="403.50" y1="1205.43" x2="403.50" y2="1493.20" stroke="#b9b9b9" stroke-width="1"/>
<line x1="422.50" y1="1205.43" x2="422.50" y2="1493.20" stroke="#b9b9b9" stroke-width="1"/>
<line x1="69.60" y1="1473.50" x2="440.90" y2="1473.50" stroke="#b9b9b9" stroke-width="1"/>
<line x1="69.60" y1="1452.50" x2="440.90" y2="1452.50" stroke="#b9b9b9" stroke-width="1"/>
<line x1="69.60" y1="1432.50" x2="440.90" y2="1432.50" stroke="#b9b9b9" stroke-width="1"/>
<line x1="69.60" y1="1411.50" x2="440.90" y2="1411.50" stroke="#b9b9b9" stroke-width="1"/>
<line x1="69.60" y1="1390.50" x2="440.90" y2="1390.50" stroke="#b9b9b9" stroke-width="1"/>
<line x1="69.60" y1="1370.50" x2="440.90" y2="1370.50" stroke="#b9b9b9" stroke-width="1"/>
<line x1="69.60" y1="1349.50" x2="440.90" y2="1349.50" stroke="#b9b9b9" stroke-width="1"/>
<line x1="69.60" y1="1329.50" x2="440.90" y2="1329.50" stroke="#b9b9b9" stroke-width="1"/>
<line x1="69.60" y1="1308.50" x2="440.90" y2="1308.50" stroke="#b9b9b9" stroke-width="1"/>
<line x1="69.60" y1="1288.50" x2="440.90" y2="1288.50" stroke="#b9b9b9" stroke-width="1"/>
<line x1="69.60" y1="1267.50" x2="440.90" y2="1267.50" stroke="#b9b9b9" stroke-width="1"/>
<line x1="69.60" y1="1247.50" x2="440.90" y2="1247.50" stroke="#b9b9b9" stroke-width="1"/>
<line x1="69.60" y1="1226.50" x2="440.90" y2="1226.50" stroke="#b9b9b9" stroke-width="1"/>
<line x1="69.60" y1="1205.50" x2="440.90" y2="1205.50" stroke="#b9b9b9" stroke-width="1"/>
<line x1="69.60" y1="1185.50" x2="385.21" y2="1185.50" stroke="#b9b9b9" stroke-width="1"/>
<line x1="69.60" y1="1164.90" x2="440.90" y2="1164.90" stroke="#555" stroke-width="1.2"/>
<line x1="69.60" y1="1163.82" x2="69.60" y2="1493.80" stroke="#333" stroke-width="1.2"/>
<line x1="69.00" y1="1493.20" x2="441.90" y2="1493.20" stroke="#333" stroke-width="1.2"/>
<line x1="441.30" y1="1163.82" x2="441.30" y2="1493.80" stroke="#888" stroke-width="1.7"/>
<line x1="69.30" y1="1154.40" x2="441.90" y2="1154.40" stroke="#333" stroke-width="1"/>
<line x1="69.60" y1="1154.40" x2="69.60" y2="1150.20" stroke="#333" stroke-width="1"/>
<text transform="translate(66.95 1143.90) scale(0.9500 1)" font-size="10.03" fill="#555555">0</text>
<line x1="114.16" y1="1154.40" x2="114.16" y2="1150.20" stroke="#333" stroke-width="1"/>
<text transform="translate(108.93 1143.90) scale(0.9500 1)" font-size="10.03" fill="#555555">40</text>
<line x1="158.71" y1="1154.40" x2="158.71" y2="1150.20" stroke="#333" stroke-width="1"/>
<text transform="translate(153.39 1143.90) scale(0.9500 1)" font-size="10.03" fill="#555555">80</text>
<line x1="203.27" y1="1154.40" x2="203.27" y2="1150.20" stroke="#333" stroke-width="1"/>
<text transform="translate(195.14 1143.90) scale(0.9500 1)" font-size="10.03" fill="#555555">120</text>
<line x1="247.82" y1="1154.40" x2="247.82" y2="1150.20" stroke="#333" stroke-width="1"/>
<text transform="translate(239.70 1143.90) scale(0.9500 1)" font-size="10.03" fill="#555555">160</text>
<line x1="292.38" y1="1154.40" x2="292.38" y2="1150.20" stroke="#333" stroke-width="1"/>
<text transform="translate(284.38 1143.90) scale(0.9500 1)" font-size="10.03" fill="#555555">200</text>
<line x1="336.94" y1="1154.40" x2="336.94" y2="1150.20" stroke="#333" stroke-width="1"/>
<text transform="translate(328.93 1143.90) scale(0.9500 1)" font-size="10.03" fill="#555555">240</text>
<line x1="381.49" y1="1154.40" x2="381.49" y2="1150.20" stroke="#333" stroke-width="1"/>
<text transform="translate(373.49 1143.90) scale(0.9500 1)" font-size="10.03" fill="#555555">280</text>
<line x1="426.05" y1="1154.40" x2="426.05" y2="1150.20" stroke="#333" stroke-width="1"/>
<text transform="translate(418.10 1143.90) scale(0.9500 1)" font-size="10.03" fill="#555555">320</text>
<text transform="translate(449.69 1497.30) scale(0.9000 1)" font-size="11.63" fill="#555555">0</text>
<line x1="441.90" y1="1369.90" x2="445.40" y2="1369.90" stroke="#666" stroke-width="1"/>
<text transform="translate(449.30 1373.50) scale(0.9000 1)" font-size="11.63" fill="#555555">100</text>
<line x1="441.90" y1="1243.10" x2="445.40" y2="1243.10" stroke="#666" stroke-width="1"/>
<text transform="translate(449.57 1246.70) scale(0.9000 1)" font-size="11.63" fill="#555555">200</text>
<text transform="translate(49.34 1414.88) scale(0.9743 1)" font-size="11.34" fill="#555555">20</text>
<text transform="translate(49.65 1332.66) scale(0.9490 1)" font-size="11.34" fill="#555555">40</text>
<text transform="translate(49.34 1250.44) scale(0.9748 1)" font-size="11.34" fill="#555555">60</text>
<text transform="translate(49.42 1168.22) scale(0.9679 1)" font-size="11.34" fill="#555555">80</text>
<text transform="translate(56.28 1510.50) scale(0.9000 1)" font-size="12.06" fill="#555555">0</text>
<text transform="translate(103.81 1510.60) scale(0.9500 1)" font-size="11.05" fill="#555555">2</text>
<text transform="translate(140.98 1510.60) scale(0.9500 1)" font-size="11.05" fill="#555555">4</text>
<text transform="translate(178.04 1510.60) scale(0.9500 1)" font-size="11.05" fill="#555555">6</text>
<text transform="translate(215.20 1510.60) scale(0.9500 1)" font-size="11.05" fill="#555555">8</text>
<text transform="translate(249.22 1510.60) scale(0.9500 1)" font-size="11.05" fill="#555555">10</text>
<text transform="translate(286.41 1510.60) scale(0.9500 1)" font-size="11.05" fill="#555555">12</text>
<text transform="translate(323.43 1510.60) scale(0.9500 1)" font-size="11.05" fill="#555555">14</text>
<text transform="translate(360.63 1510.60) scale(0.9500 1)" font-size="11.05" fill="#555555">16</text>
<text transform="translate(397.76 1510.60) scale(0.9500 1)" font-size="11.05" fill="#555555">18</text>
<text transform="translate(435.00 1510.60) scale(0.9500 1)" font-size="11.05" fill="#555555">20</text>
<rect x="385.81" y="1165.60" width="54.29" height="39.40" fill="#fff"/>
<text transform="translate(394.48 1188.10) scale(1.0200 1)" font-size="9.45" letter-spacing="0.604" fill="#2a82c2">4SLR12</text>
<polyline points="69.60,1210.43 78.60,1215.31 87.61,1220.23 96.61,1225.21 105.62,1230.24 114.62,1235.33 123.62,1240.48 132.63,1245.70 141.63,1250.98 150.64,1256.34 159.64,1261.77 168.64,1267.28 177.65,1272.88 186.65,1278.56 195.66,1284.33 204.66,1290.19 213.66,1296.15 222.67,1302.21 231.67,1308.38 240.68,1314.65 249.68,1321.04 258.68,1327.54 267.69,1334.15 276.69,1340.89 285.70,1347.76 294.70,1354.75 303.70,1361.88 312.71,1369.15 321.71,1376.55 330.72,1384.10 339.72,1391.79 348.72,1399.64 357.73,1407.64 366.73,1415.79 375.74,1424.11 384.74,1432.59 393.74,1441.25 402.75,1450.07 411.75,1459.07 420.76,1468.25 429.76,1477.61" fill="none" stroke="#2a78b4" stroke-width="1.4" stroke-linejoin="round"/>
<polyline points="69.60,1296.25 78.43,1299.94 87.26,1303.65 96.08,1307.39 104.91,1311.14 113.74,1314.93 122.57,1318.74 131.39,1322.57 140.22,1326.44 149.05,1330.34 157.88,1334.27 166.70,1338.24 175.53,1342.24 184.36,1346.28 193.19,1350.36 202.01,1354.49 210.84,1358.66 219.67,1362.87 228.50,1367.13 237.33,1371.44 246.15,1375.80 254.98,1380.21 263.81,1384.68 272.64,1389.20 281.46,1393.78 290.29,1398.42 299.12,1403.12 307.95,1407.88 316.77,1412.71 325.60,1417.61 334.43,1422.57 343.26,1427.60 352.09,1432.70 360.91,1437.87 369.74,1443.12 378.57,1448.45 387.40,1453.86 396.22,1459.34 405.05,1464.91 413.88,1470.56 422.71,1476.29" fill="none" stroke="#2a78b4" stroke-width="1.4" stroke-linejoin="round"/>
<polyline points="69.60,1350.18 78.08,1352.36 86.57,1354.60 95.05,1356.89 103.54,1359.25 112.02,1361.66 120.51,1364.13 128.99,1366.65 137.47,1369.23 145.96,1371.87 154.44,1374.56 162.93,1377.30 171.41,1380.09 179.89,1382.94 188.38,1385.83 196.86,1388.78 205.35,1391.78 213.83,1394.83 222.32,1397.92 230.80,1401.07 239.28,1404.26 247.77,1407.50 256.25,1410.78 264.74,1414.11 273.22,1417.49 281.71,1420.91 290.19,1424.37 298.67,1427.88 307.16,1431.43 315.64,1435.02 324.13,1438.65 332.61,1442.32 341.09,1446.03 349.58,1449.79 358.06,1453.58 366.55,1457.40 375.03,1461.27 383.52,1465.17 392.00,1469.11 400.48,1473.08 408.97,1477.09" fill="none" stroke="#2a78b4" stroke-width="1.4" stroke-linejoin="round"/>
<polyline points="69.60,1399.12 77.49,1400.66 85.38,1402.20 93.27,1403.75 101.16,1405.30 109.05,1406.86 116.94,1408.43 124.83,1410.01 132.72,1411.60 140.61,1413.20 148.50,1414.81 156.39,1416.44 164.28,1418.09 172.17,1419.76 180.06,1421.44 187.95,1423.15 195.84,1424.87 203.73,1426.63 211.62,1428.40 219.51,1430.20 227.40,1432.04 235.29,1433.89 243.18,1435.78 251.07,1437.71 258.96,1439.66 266.85,1441.65 274.74,1443.68 282.63,1445.74 290.52,1447.84 298.41,1449.99 306.30,1452.17 314.19,1454.40 322.08,1456.67 329.97,1458.98 337.86,1461.35 345.75,1463.76 353.64,1466.22 361.53,1468.74 369.42,1471.30 377.31,1473.92 385.21,1476.60" fill="none" stroke="#2a78b4" stroke-width="1.4" stroke-linejoin="round"/>
<polyline points="69.60,1436.20 77.03,1437.46 84.45,1438.67 91.88,1439.84 99.30,1440.96 106.73,1442.05 114.16,1443.10 121.58,1444.12 129.01,1445.10 136.43,1446.06 143.86,1446.99 151.29,1447.90 158.71,1448.79 166.14,1449.66 173.56,1450.52 180.99,1451.37 188.42,1452.20 195.84,1453.03 203.27,1453.85 210.69,1454.67 218.12,1455.50 225.55,1456.32 232.97,1457.16 240.40,1458.00 247.82,1458.85 255.25,1459.72 262.68,1460.60 270.10,1461.50 277.53,1462.43 284.95,1463.37 292.38,1464.35 299.81,1465.36 307.23,1466.39 314.66,1467.47 322.08,1468.58 329.51,1469.73 336.94,1470.93 344.36,1472.17 351.79,1473.46 359.21,1474.80 366.64,1476.19" fill="none" stroke="#2a78b4" stroke-width="1.4" stroke-linejoin="round"/>
<g transform="translate(137.30 1265.60) rotate(28.00)">
<rect x="-2" y="-8.42" width="54.49" height="10.89" fill="#fff"/>
<text transform="skewX(-8)" font-size="9.90" letter-spacing="0.10" fill="#2a78b4" stroke="#2a78b4" stroke-width="0.15">1207-3/385</text>
</g>
<g transform="translate(136.00 1342.40) rotate(17.00)">
<rect x="-2" y="-8.24" width="61.99" height="10.67" fill="#fff"/>
<text transform="skewX(-8)" font-size="9.70" letter-spacing="0.12" fill="#2a78b4" stroke="#2a78b4" stroke-width="0.15">1205-2.2/280</text>
</g>
<g transform="translate(135.90 1385.50) rotate(13.70)">
<rect x="-2" y="-8.24" width="61.99" height="10.67" fill="#fff"/>
<text transform="skewX(-8)" font-size="9.70" letter-spacing="0.12" fill="#2a78b4" stroke="#2a78b4" stroke-width="0.15">1204-1.5/192</text>
</g>
<g transform="translate(135.50 1423.50) rotate(12.30)">
<rect x="-2" y="-8.24" width="61.99" height="10.67" fill="#fff"/>
<text transform="skewX(-8)" font-size="9.70" letter-spacing="0.12" fill="#2a78b4" stroke="#2a78b4" stroke-width="0.15">1203-1.1/144</text>
</g>
<g transform="translate(134.90 1461.80) rotate(2.50)">
<rect x="-2" y="-8.33" width="62.36" height="10.78" fill="#fff"/>
<text transform="skewX(-8)" font-size="9.80" letter-spacing="0.10" fill="#2a78b4" stroke="#2a78b4" stroke-width="0.15">1202-0.75/96</text>
</g>
<text transform="translate(410.94 1125.90) scale(0.9700 1)" font-size="14.39" letter-spacing="0.433" fill="#2a82c2">Q(L/min)</text>
<text transform="translate(454.89 1155.50) scale(1.0461 1)" font-size="10.61" fill="#2a82c2">H</text>
<text transform="translate(452.18 1164.90) scale(0.9000 1)" font-size="9.72" letter-spacing="1.379" fill="#2a82c2">[ft]</text>
<text x="359.1" y="1528.7" font-size="11.4" fill="#2a82c2" stroke="#2a82c2" stroke-width="0.15" textLength="106.3" lengthAdjust="spacing">CAPACITY Q(m<tspan font-size="5.5" dy="-5.2">3</tspan><tspan dy="5.2">/h)</tspan></text>
<g transform="translate(31.7 1195.8) rotate(-90)">
<text transform="translate(-0.97 0) scale(1.0901 1)" font-size="10.90" fill="#2a82c2" stroke="#2a82c2" stroke-width="0.35">HEAD H(m)</text>
</g>
</g>
</svg>
</body></html>
